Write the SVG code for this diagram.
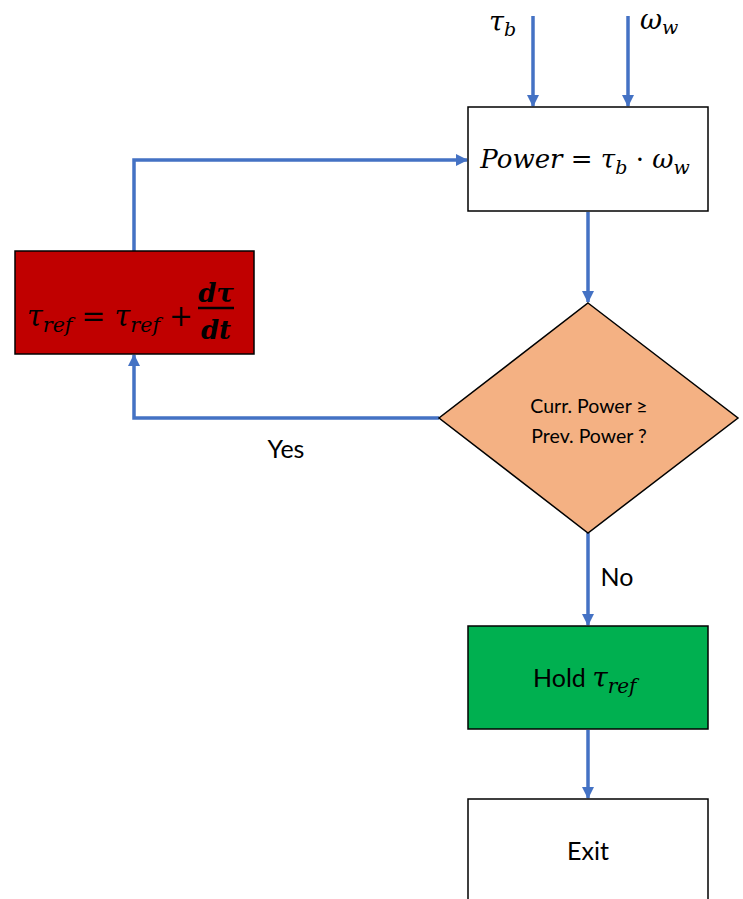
<svg xmlns="http://www.w3.org/2000/svg" width="743" height="899" viewBox="0 0 743 899">
<defs>
<marker id="arr" markerWidth="12" markerHeight="12" refX="11" refY="6" orient="auto" markerUnits="userSpaceOnUse">
<path d="M0,0 L12,6 L0,12 z" fill="#4472C4"/>
</marker>
<style>
.box{stroke:#000;stroke-width:1.5}
.conn{fill:none;stroke:#4472C4;stroke-width:3.5}
.lbl{font-family:Lato,"Open Sans",sans-serif;fill:#000}
.math{font-family:"DejaVu Serif","Liberation Serif",serif;font-style:italic;fill:#000}
</style>
</defs>
<rect width="743" height="899" fill="#fff"/>
<g id="connectors">
<line class="conn" x1="533" y1="16" x2="533" y2="106" marker-end="url(#arr)"/>
<line class="conn" x1="628" y1="16" x2="628" y2="106" marker-end="url(#arr)"/>
<polyline class="conn" points="134,251 134,160 467,160" marker-end="url(#arr)"/>
<line class="conn" x1="588" y1="212" x2="588" y2="302" marker-end="url(#arr)"/>
<polyline class="conn" points="439,418 134,418 134,355" marker-end="url(#arr)"/>
<line class="conn" x1="588" y1="533" x2="588" y2="625" marker-end="url(#arr)"/>
<line class="conn" x1="588" y1="730" x2="588" y2="798" marker-end="url(#arr)"/>
<text class="lbl" x="286" y="458" font-size="25" text-anchor="middle">Yes</text>
<text class="lbl" x="617" y="586" font-size="25" text-anchor="middle">No</text>
</g>
<g id="input-tau">
<text class="math" x="489" y="31" font-size="27">τ<tspan font-size="19" dy="5">b</tspan></text>
</g>
<g id="input-omega">
<text class="math" x="640" y="29" font-size="27">ω<tspan font-size="19" dy="5">w</tspan></text>
</g>
<g id="power">
<rect class="box" x="468" y="107" width="240" height="104" fill="#fff"/>
<text class="math" x="585" y="168" font-size="26" text-anchor="middle">Power <tspan font-style="normal">=</tspan> τ<tspan font-size="19" dy="6">b</tspan><tspan dy="-6" font-style="normal"> · </tspan>ω<tspan font-size="19" dy="6">w</tspan></text>
</g>
<g id="update">
<rect class="box" x="15" y="251" width="239" height="103" fill="#C00000"/>
<text class="math" x="27" y="326" font-size="29" textLength="166" lengthAdjust="spacingAndGlyphs">τ<tspan font-size="21" dy="6">ref</tspan><tspan dy="-6" font-style="normal"> = </tspan>τ<tspan font-size="21" dy="6">ref</tspan><tspan dy="-6" font-style="normal"> +</tspan></text>
<text class="math" x="216" y="302" font-size="26" font-weight="bold" text-anchor="middle">dτ</text>
<line x1="198" y1="308" x2="234" y2="308" stroke="#000" stroke-width="2.5"/>
<text class="math" x="216" y="339" font-size="26" font-weight="bold" text-anchor="middle">dt</text>
</g>
<g id="decision">
<polygon class="box" points="588,303 738,418 588,533 439,418" fill="#F4B183"/>
<text class="lbl" x="589" y="413" font-size="19.5" text-anchor="middle">Curr. Power ≥</text>
<text class="lbl" x="589" y="443" font-size="19.5" text-anchor="middle">Prev. Power ?</text>
</g>
<g id="hold">
<rect class="box" x="468" y="626" width="240" height="103" fill="#00B050"/>
<text class="lbl" x="533" y="687" font-size="25">Hold <tspan class="math" font-size="28">τ<tspan font-size="20" dy="6">ref</tspan></tspan></text>
</g>
<g id="exit">
<rect class="box" x="468" y="799" width="240" height="110" fill="#fff"/>
<text class="lbl" x="588" y="860" font-size="25" text-anchor="middle">Exit</text>
</g>
</svg>
